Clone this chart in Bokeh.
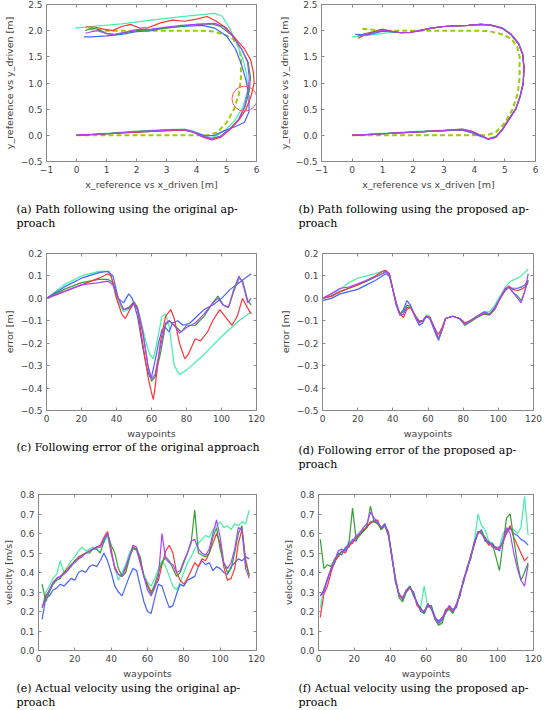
from bokeh.plotting import figure
from bokeh.layouts import column, row
from bokeh.models import Range1d, FixedTicker, LinearAxis, CustomJSTickFormatter
from bokeh.core.properties import value
from bokeh.embed import file_html
from bokeh.resources import INLINE

RED = "#ff3333"; GREEN = "#33a033"; BLUE = "#4563ff"; CYAN = "#40f0a8"; PURPLE = "#a844ff"
REF = "#9acd00"; GRAY = "#8a8a8a"
LW = 1.2

# ---------------- (a) path, original approach ----------------
ref_x = [0.0, 0.5, 1.0, 1.5, 2.0, 2.5, 3.0, 3.5, 4.0, 4.4, 4.7, 5.0, 5.25, 5.42, 5.48, 5.48, 5.4, 5.2, 4.9, 4.5, 4.0, 3.5, 3.0, 2.5, 2.0, 1.5, 1.0, 0.6, 0.3]
ref_y = [0.0, 0.0, 0.0, 0.0, 0.0, 0.0, 0.0, 0.0, 0.0, 0.0, 0.06, 0.24, 0.5, 0.8, 1.1, 1.5, 1.7, 1.85, 1.93, 1.99, 2.0, 2.0, 2.0, 2.0, 2.0, 2.0, 2.0, 2.02, 2.04]

a_cyan_x = [0.0, 1.0, 2.0, 3.0, 3.6, 3.9, 4.2, 4.45, 4.7, 5.0, 5.3, 5.55, 5.7, 5.68, 5.55, 5.35, 5.1, 4.85, 4.6, 3.5, 2.5, 1.5, 0.5, -0.05]
a_cyan_y = [0.0, 0.04, 0.08, 0.11, 0.12, 0.08, 0.0, -0.05, 0.0, 0.12, 0.3, 0.55, 0.85, 1.15, 1.45, 1.75, 2.05, 2.28, 2.33, 2.27, 2.2, 2.13, 2.08, 2.05]
a_blue_x = [0.0, 1.0, 2.0, 3.0, 3.6, 4.0, 4.3, 4.6, 4.9, 5.3, 5.6, 5.75, 5.75, 5.65, 5.5, 5.3, 5.0, 4.6, 4.2, 3.5, 3.0, 2.5, 2.0, 1.5, 1.0, 0.5, 0.25]
a_blue_y = [0.0, 0.03, 0.06, 0.09, 0.1, 0.05, -0.01, 0.0, 0.08, 0.17, 0.25, 0.45, 0.75, 1.05, 1.35, 1.65, 1.9, 2.05, 2.1, 2.08, 2.06, 2.0, 1.98, 1.93, 1.9, 1.88, 1.88]
a_green_x = [0.0, 1.0, 2.0, 3.0, 3.6, 3.9, 4.2, 4.5, 4.8, 5.1, 5.4, 5.62, 5.76, 5.8, 5.72, 5.5, 5.2, 4.8, 4.5, 4.0, 3.5, 3.0, 2.5, 2.0, 1.6, 1.3, 1.0, 0.7, 0.5, 0.3]
a_green_y = [0.0, 0.03, 0.07, 0.1, 0.11, 0.06, -0.02, -0.07, -0.02, 0.12, 0.3, 0.55, 0.85, 1.1, 1.4, 1.65, 1.9, 2.08, 2.13, 2.12, 2.08, 2.05, 2.02, 2.0, 1.96, 1.92, 1.95, 2.03, 2.05, 2.0]
a_red_x = [0.0, 1.0, 2.0, 3.0, 3.6, 3.9, 4.2, 4.5, 4.8, 5.1, 5.4, 5.65, 5.82, 5.92, 5.9, 5.8, 5.6, 5.3, 5.0, 4.6, 4.35, 4.0, 3.6, 3.2, 2.8, 2.4, 2.1, 1.8, 1.5, 1.2, 0.9, 0.6, 0.3]
a_red_y = [0.0, 0.03, 0.06, 0.09, 0.1, 0.06, -0.03, -0.09, -0.04, 0.1, 0.28, 0.5, 0.75, 1.0, 1.2, 1.45, 1.65, 1.85, 2.05, 2.2, 2.27, 2.22, 2.18, 2.2, 2.15, 2.06, 2.05, 2.12, 2.08, 2.0, 2.03, 2.07, 2.07]
a_purple_x = [0.0, 1.0, 2.0, 3.0, 3.6, 3.9, 4.2, 4.5, 4.8, 5.1, 5.4, 5.6, 5.72, 5.76, 5.7, 5.5, 5.2, 4.9, 4.6, 4.0, 3.5, 3.0, 2.5, 2.0, 1.6, 1.25, 1.0, 0.7, 0.5, 0.3]
a_purple_y = [0.0, 0.03, 0.07, 0.1, 0.11, 0.06, -0.02, -0.06, -0.02, 0.12, 0.3, 0.55, 0.85, 1.1, 1.4, 1.65, 1.9, 2.08, 2.14, 2.12, 2.1, 2.07, 2.03, 2.02, 1.97, 1.93, 1.94, 2.0, 1.98, 1.95]
circle_x = [5.6]
circle_y = [0.7]

# ---------------- (b) path, proposed approach ----------------
b_cyan_x = [0.0, 1.0, 2.0, 3.0, 3.6, 3.9, 4.2, 4.45, 4.7, 4.9, 5.1, 5.35, 5.5, 5.6, 5.62, 5.58, 5.45, 5.2, 4.9, 4.5, 4.2, 3.8, 3.4, 3.0, 2.6, 2.2, 1.9, 1.6, 1.3, 1.0, 0.5, 0.0]
b_cyan_y = [0.0, 0.04, 0.07, 0.1, 0.12, 0.08, 0.0, -0.06, -0.02, 0.11, 0.29, 0.51, 0.76, 1.0, 1.3, 1.55, 1.76, 1.94, 2.06, 2.11, 2.12, 2.1, 2.09, 2.08, 2.05, 2.0, 1.97, 1.96, 1.97, 1.95, 1.91, 1.88]
b_blue_x = [0.0, 1.0, 2.0, 3.0, 3.6, 3.9, 4.2, 4.45, 4.7, 4.9, 5.1, 5.35, 5.5, 5.6, 5.62, 5.58, 5.45, 5.2, 4.9, 4.5, 4.2, 3.8, 3.4, 3.0, 2.6, 2.2, 1.9, 1.6, 1.3, 1.0, 0.5, 0.1]
b_blue_y = [0.0, 0.03, 0.06, 0.09, 0.1, 0.05, -0.02, -0.07, -0.04, 0.09, 0.27, 0.49, 0.74, 1.0, 1.3, 1.55, 1.75, 1.93, 2.05, 2.11, 2.12, 2.1, 2.09, 2.08, 2.05, 2.0, 1.97, 1.96, 1.98, 1.99, 1.92, 1.93]
b_green_x = [0.0, 1.0, 2.0, 3.0, 3.6, 3.9, 4.2, 4.45, 4.7, 4.9, 5.1, 5.35, 5.5, 5.6, 5.62, 5.58, 5.45, 5.2, 4.9, 4.5, 4.2, 3.8, 3.4, 3.0, 2.6, 2.2, 1.9, 1.6, 1.3, 1.0, 0.7, 0.4, 0.25]
b_green_y = [0.0, 0.03, 0.06, 0.09, 0.11, 0.07, 0.0, -0.07, -0.03, 0.1, 0.28, 0.5, 0.75, 1.0, 1.3, 1.55, 1.75, 1.93, 2.05, 2.11, 2.12, 2.1, 2.09, 2.08, 2.05, 2.0, 1.97, 1.96, 1.98, 2.03, 1.98, 1.94, 1.9]
b_red_x = [0.0, 1.0, 2.0, 3.0, 3.6, 3.9, 4.2, 4.45, 4.7, 4.9, 5.1, 5.35, 5.5, 5.6, 5.62, 5.58, 5.45, 5.2, 4.9, 4.5, 4.2, 3.8, 3.4, 3.0, 2.6, 2.2, 1.9, 1.6, 1.3, 1.0, 0.7, 0.4, 0.2]
b_red_y = [0.0, 0.03, 0.06, 0.09, 0.12, 0.08, 0.0, -0.07, -0.03, 0.1, 0.28, 0.5, 0.75, 1.0, 1.3, 1.55, 1.74, 1.92, 2.05, 2.11, 2.12, 2.1, 2.09, 2.08, 2.05, 2.0, 1.96, 1.96, 1.99, 2.02, 1.98, 1.92, 1.85]
b_purple_x = [0.0, 1.0, 2.0, 3.0, 3.6, 3.9, 4.2, 4.45, 4.7, 4.9, 5.1, 5.35, 5.5, 5.6, 5.63, 5.58, 5.45, 5.2, 4.9, 4.5, 4.2, 3.8, 3.4, 3.0, 2.6, 2.2, 1.9, 1.6, 1.3, 1.0, 0.7, 0.4, 0.2]
b_purple_y = [0.0, 0.03, 0.06, 0.09, 0.11, 0.07, 0.0, -0.08, -0.04, 0.09, 0.27, 0.5, 0.75, 1.0, 1.3, 1.55, 1.75, 1.93, 2.05, 2.11, 2.12, 2.1, 2.09, 2.08, 2.05, 2.0, 1.97, 1.96, 1.98, 2.01, 1.96, 1.92, 1.9]

# ---------------- (c) error, original approach ----------------
c_red_x = [0, 10, 20, 30, 35, 37, 40, 43, 45, 47, 50, 52, 55, 58, 60, 61, 62, 65, 68, 71, 73, 76, 79, 81, 85, 88, 92, 95, 99, 102, 106, 109, 112, 114, 117]
c_red_y = [0.0, 0.03, 0.06, 0.09, 0.11, 0.1, 0.0, -0.07, -0.09, -0.06, -0.02, -0.05, -0.2, -0.35, -0.42, -0.45, -0.4, -0.2, -0.08, -0.05, -0.09, -0.2, -0.27, -0.25, -0.18, -0.19, -0.15, -0.1, -0.05, -0.08, -0.12, -0.08, 0.0, -0.03, -0.07]
c_cyan_x = [0, 10, 20, 30, 36, 40, 44, 47, 50, 53, 57, 59, 61, 63, 66, 68, 70, 73, 76, 80, 90, 100, 110, 117]
c_cyan_y = [0.0, 0.06, 0.1, 0.12, 0.12, 0.0, -0.06, -0.05, -0.02, -0.07, -0.2, -0.25, -0.27, -0.2, -0.08, -0.07, -0.12, -0.3, -0.34, -0.32, -0.25, -0.17, -0.1, -0.06]
c_blue_x = [0, 10, 20, 30, 35, 38, 41, 44, 47, 49, 52, 55, 57, 59, 60, 62, 64, 66, 68, 70, 72, 75, 78, 82, 86, 90, 95, 100, 105, 110, 117]
c_blue_y = [0.0, 0.05, 0.09, 0.115, 0.12, 0.1, 0.0, -0.02, 0.02, 0.0, -0.08, -0.22, -0.3, -0.35, -0.35, -0.28, -0.2, -0.14, -0.13, -0.15, -0.11, -0.1, -0.12, -0.11, -0.08, -0.05, -0.03, 0.0, 0.04, 0.07, 0.11]
c_green_x = [0, 10, 20, 30, 35, 38, 41, 44, 47, 50, 52, 55, 58, 60, 62, 65, 68, 70, 73, 77, 80, 85, 90, 95, 98, 101, 104, 107, 110, 112, 115, 117]
c_green_y = [0.0, 0.04, 0.07, 0.085, 0.085, 0.07, 0.0, -0.05, -0.04, -0.015, -0.04, -0.15, -0.3, -0.37, -0.35, -0.25, -0.12, -0.1, -0.12, -0.15, -0.12, -0.12, -0.08, -0.02, 0.01, -0.03, -0.04, 0.03, 0.09, 0.08, -0.01, -0.03]
c_purple_x = [0, 10, 20, 30, 35, 38, 41, 44, 47, 50, 52, 55, 58, 60, 62, 65, 68, 70, 73, 76, 80, 85, 90, 95, 98, 101, 104, 107, 110, 112, 115, 117]
c_purple_y = [0.0, 0.03, 0.06, 0.07, 0.077, 0.06, 0.0, -0.05, -0.045, -0.02, -0.05, -0.15, -0.3, -0.36, -0.34, -0.22, -0.11, -0.1, -0.12, -0.155, -0.13, -0.11, -0.07, -0.02, 0.0, -0.03, -0.04, 0.04, 0.1, 0.07, -0.02, 0.0]

# ---------------- (d) error, proposed approach ----------------
d_x = [0, 5, 10, 15, 20, 25, 30, 34, 36, 38, 40, 42, 44, 46, 48, 50, 53, 55, 57, 59, 61, 63, 65, 66, 68, 70, 74, 78, 81, 84, 88, 92, 95, 98, 101, 104, 106, 108, 111, 113, 115, 117]
d_red_y = [0.0, 0.01, 0.03, 0.045, 0.06, 0.08, 0.1, 0.12, 0.125, 0.11, 0.04, -0.03, -0.07, -0.085, -0.05, -0.04, -0.08, -0.105, -0.1, -0.08, -0.085, -0.12, -0.15, -0.16, -0.13, -0.09, -0.08, -0.09, -0.11, -0.1, -0.08, -0.065, -0.07, -0.045, 0.0, 0.04, 0.055, 0.04, 0.035, 0.04, 0.05, 0.07]
d_blue_y = [-0.01, 0.0, 0.02, 0.03, 0.04, 0.06, 0.08, 0.1, 0.11, 0.1, 0.04, -0.02, -0.07, -0.05, -0.01, -0.03, -0.09, -0.12, -0.11, -0.08, -0.09, -0.13, -0.17, -0.18, -0.14, -0.09, -0.08, -0.09, -0.11, -0.1, -0.08, -0.06, -0.07, -0.04, 0.0, 0.035, 0.05, 0.045, 0.045, 0.05, 0.06, 0.08]
d_cyan_y = [0.0, 0.02, 0.04, 0.07, 0.09, 0.1, 0.11, 0.12, 0.12, 0.11, 0.04, -0.02, -0.07, -0.06, -0.04, -0.04, -0.08, -0.1, -0.1, -0.075, -0.08, -0.12, -0.17, -0.19, -0.14, -0.09, -0.08, -0.09, -0.115, -0.1, -0.08, -0.06, -0.06, -0.03, 0.01, 0.05, 0.07, 0.08, 0.09, 0.1, 0.115, 0.13]
d_green_y = [0.0, 0.01, 0.03, 0.045, 0.06, 0.075, 0.095, 0.11, 0.12, 0.11, 0.04, -0.03, -0.07, -0.06, -0.03, -0.035, -0.08, -0.1, -0.1, -0.08, -0.085, -0.12, -0.16, -0.18, -0.14, -0.09, -0.08, -0.09, -0.12, -0.105, -0.085, -0.07, -0.075, -0.05, 0.0, 0.04, 0.05, 0.03, 0.01, -0.01, 0.03, 0.08]
d_purple_y = [0.0, 0.02, 0.045, 0.05, 0.065, 0.08, 0.095, 0.11, 0.12, 0.105, 0.04, -0.03, -0.075, -0.07, -0.04, -0.04, -0.085, -0.11, -0.1, -0.08, -0.09, -0.12, -0.16, -0.185, -0.14, -0.09, -0.08, -0.09, -0.115, -0.1, -0.08, -0.065, -0.07, -0.045, 0.0, 0.045, 0.05, 0.03, 0.0, -0.02, 0.03, 0.11]

# ---------------- (e) velocity, original approach ----------------
e_x = [2, 4, 6, 8, 10, 12, 14, 16, 18, 20, 22, 24, 26, 28, 30, 32, 34, 36, 38, 40, 42, 44, 46, 48, 50, 52, 54, 56, 58, 60, 62, 64, 66, 68, 70, 72, 74, 76, 78, 80, 82, 84, 86, 88, 90, 92, 94, 96, 98, 100, 102, 104, 106, 108, 110, 112, 114, 116]
e_blue = [0.16, 0.27, 0.28, 0.31, 0.32, 0.34, 0.33, 0.35, 0.37, 0.36, 0.40, 0.41, 0.40, 0.43, 0.44, 0.43, 0.46, 0.50, 0.46, 0.40, 0.33, 0.30, 0.28, 0.33, 0.38, 0.42, 0.41, 0.33, 0.25, 0.20, 0.19, 0.27, 0.34, 0.33, 0.27, 0.22, 0.23, 0.29, 0.34, 0.33, 0.36, 0.37, 0.38, 0.43, 0.46, 0.44, 0.45, 0.41, 0.43, 0.42, 0.40, 0.39, 0.43, 0.45, 0.47, 0.46, 0.48, 0.47]
e_red = [0.22, 0.28, 0.31, 0.34, 0.37, 0.38, 0.40, 0.42, 0.44, 0.46, 0.48, 0.49, 0.50, 0.51, 0.52, 0.53, 0.54, 0.58, 0.61, 0.52, 0.42, 0.39, 0.38, 0.42, 0.48, 0.52, 0.52, 0.45, 0.38, 0.34, 0.30, 0.33, 0.36, 0.44, 0.51, 0.54, 0.50, 0.40, 0.36, 0.34, 0.37, 0.41, 0.45, 0.43, 0.47, 0.46, 0.50, 0.55, 0.60, 0.55, 0.43, 0.36, 0.37, 0.42, 0.55, 0.62, 0.47, 0.38]
e_green = [0.34, 0.25, 0.30, 0.34, 0.36, 0.37, 0.40, 0.41, 0.43, 0.46, 0.47, 0.49, 0.50, 0.50, 0.52, 0.52, 0.50, 0.56, 0.60, 0.54, 0.50, 0.42, 0.38, 0.40, 0.47, 0.53, 0.52, 0.48, 0.38, 0.33, 0.29, 0.34, 0.40, 0.45, 0.48, 0.46, 0.42, 0.38, 0.40, 0.45, 0.50, 0.55, 0.72, 0.50, 0.49, 0.48, 0.50, 0.58, 0.63, 0.52, 0.45, 0.40, 0.42, 0.50, 0.60, 0.64, 0.45, 0.39]
e_cyan = [0.22, 0.30, 0.33, 0.37, 0.39, 0.46, 0.40, 0.43, 0.46, 0.48, 0.51, 0.53, 0.51, 0.52, 0.53, 0.52, 0.54, 0.55, 0.59, 0.50, 0.42, 0.36, 0.40, 0.44, 0.50, 0.53, 0.51, 0.45, 0.39, 0.35, 0.33, 0.37, 0.42, 0.46, 0.43, 0.38, 0.33, 0.31, 0.35, 0.40, 0.45, 0.48, 0.52, 0.55, 0.57, 0.59, 0.58, 0.62, 0.64, 0.66, 0.63, 0.64, 0.62, 0.65, 0.64, 0.66, 0.65, 0.72]
e_purple = [0.22, 0.27, 0.31, 0.35, 0.37, 0.38, 0.39, 0.41, 0.44, 0.45, 0.47, 0.48, 0.50, 0.51, 0.52, 0.53, 0.53, 0.57, 0.60, 0.50, 0.43, 0.39, 0.38, 0.43, 0.48, 0.54, 0.53, 0.46, 0.38, 0.31, 0.28, 0.32, 0.38, 0.60, 0.47, 0.45, 0.44, 0.40, 0.41, 0.46, 0.50, 0.56, 0.57, 0.52, 0.50, 0.49, 0.52, 0.60, 0.67, 0.58, 0.45, 0.42, 0.45, 0.52, 0.63, 0.62, 0.42, 0.37]

# ---------------- (f) velocity, proposed approach ----------------
f_x = [1, 3, 5, 7, 9, 11, 13, 15, 17, 19, 21, 23, 25, 27, 29, 31, 33, 35, 37, 39, 41, 43, 45, 47, 49, 51, 53, 55, 57, 59, 61, 63, 65, 67, 69, 71, 73, 75, 77, 79, 81, 83, 85, 87, 89, 91, 93, 95, 97, 99, 101, 103, 105, 107, 109, 111, 113, 115, 117]
f_blue = [0.28, 0.31, 0.37, 0.42, 0.45, 0.50, 0.49, 0.53, 0.53, 0.57, 0.56, 0.60, 0.61, 0.64, 0.65, 0.67, 0.65, 0.63, 0.65, 0.60, 0.49, 0.35, 0.29, 0.26, 0.31, 0.33, 0.28, 0.25, 0.20, 0.19, 0.24, 0.21, 0.17, 0.15, 0.17, 0.19, 0.23, 0.21, 0.22, 0.30, 0.35, 0.43, 0.47, 0.56, 0.60, 0.62, 0.56, 0.56, 0.53, 0.53, 0.51, 0.57, 0.60, 0.63, 0.60, 0.59, 0.57, 0.56, 0.54]
f_red = [0.17, 0.29, 0.33, 0.40, 0.46, 0.48, 0.51, 0.50, 0.54, 0.55, 0.58, 0.59, 0.62, 0.63, 0.66, 0.66, 0.67, 0.62, 0.64, 0.61, 0.47, 0.37, 0.28, 0.27, 0.30, 0.32, 0.30, 0.23, 0.21, 0.20, 0.23, 0.22, 0.16, 0.14, 0.16, 0.21, 0.22, 0.20, 0.24, 0.28, 0.37, 0.41, 0.49, 0.54, 0.61, 0.60, 0.57, 0.54, 0.55, 0.52, 0.53, 0.55, 0.61, 0.64, 0.58, 0.54, 0.50, 0.46, 0.48]
f_green = [0.57, 0.42, 0.44, 0.43, 0.47, 0.49, 0.51, 0.51, 0.55, 0.73, 0.57, 0.59, 0.61, 0.63, 0.74, 0.66, 0.65, 0.62, 0.64, 0.59, 0.48, 0.36, 0.27, 0.25, 0.30, 0.33, 0.29, 0.24, 0.22, 0.19, 0.23, 0.23, 0.16, 0.13, 0.14, 0.20, 0.21, 0.19, 0.23, 0.29, 0.36, 0.42, 0.48, 0.55, 0.60, 0.61, 0.58, 0.55, 0.55, 0.48, 0.41, 0.55, 0.68, 0.70, 0.57, 0.45, 0.36, 0.40, 0.45]
f_cyan = [0.22, 0.32, 0.36, 0.41, 0.45, 0.49, 0.50, 0.52, 0.56, 0.55, 0.58, 0.61, 0.62, 0.63, 0.66, 0.66, 0.66, 0.62, 0.65, 0.59, 0.48, 0.37, 0.28, 0.27, 0.31, 0.33, 0.29, 0.24, 0.22, 0.33, 0.22, 0.23, 0.18, 0.13, 0.15, 0.21, 0.22, 0.20, 0.24, 0.30, 0.36, 0.43, 0.49, 0.56, 0.70, 0.64, 0.62, 0.56, 0.55, 0.53, 0.53, 0.60, 0.62, 0.62, 0.62, 0.60, 0.63, 0.79, 0.59]
f_purple = [0.28, 0.30, 0.36, 0.42, 0.46, 0.51, 0.52, 0.51, 0.55, 0.56, 0.59, 0.60, 0.63, 0.65, 0.71, 0.68, 0.66, 0.63, 0.64, 0.60, 0.48, 0.35, 0.29, 0.27, 0.31, 0.32, 0.30, 0.24, 0.21, 0.20, 0.24, 0.22, 0.17, 0.14, 0.16, 0.20, 0.23, 0.20, 0.23, 0.29, 0.36, 0.42, 0.48, 0.55, 0.61, 0.60, 0.57, 0.55, 0.54, 0.52, 0.52, 0.56, 0.63, 0.60, 0.50, 0.42, 0.36, 0.33, 0.44]

ticks_path_x = [-1, 0, 1, 2, 3, 4, 5, 6]
ticks_path_y = [-0.5, 0.0, 0.5, 1.0, 1.5, 2.0, 2.5]
ticks_wp = [0, 20, 40, 60, 80, 100, 120]
ticks_err = [-0.5, -0.4, -0.3, -0.2, -0.1, 0.0, 0.1, 0.2]
ticks_vel = [0.0, 0.1, 0.2, 0.3, 0.4, 0.5, 0.6, 0.7, 0.8]

cap_a = ["(a) Path following using the original ap-", "proach"]
cap_b = ["(b) Path following using the proposed ap-", "proach"]
cap_c = ["(c) Following error of the original approach"]
cap_d = ["(d) Following error of the proposed ap-", "proach"]
cap_e = ["(e) Actual velocity using the original ap-", "proach"]
cap_f = ["(f) Actual velocity using the proposed ap-", "proach"]


def fmt(dec):
    return CustomJSTickFormatter(code="return tick.toFixed(%d).replace('-', '\\u2212');" % dec)


def make_panel(h, borders, xr, yr, xt, yt, xlab, ylab, xdec, ydec):
    l, r, t, b = borders
    p = figure(width=272, height=h, x_range=Range1d(*xr), y_range=Range1d(*yr),
               output_backend="svg", toolbar_location=None,
               min_border_left=l, min_border_right=r, min_border_top=t, min_border_bottom=b)
    p.xgrid.visible = False
    p.ygrid.visible = False
    p.outline_line_color = GRAY
    p.background_fill_color = "white"
    p.border_fill_color = "white"
    for ax, ticks, dec, lab in ((p.xaxis[0], xt, xdec, xlab), (p.yaxis[0], yt, ydec, ylab)):
        ax.ticker = FixedTicker(ticks=ticks)
        ax.formatter = fmt(dec)
        ax.axis_label = lab
        ax.axis_label_text_font = "DejaVu Sans"
        ax.axis_label_text_font_size = "9.5px"
        ax.axis_label_text_font_style = "normal"
        ax.axis_label_standoff = 3
        ax.major_label_text_font = "DejaVu Sans"
        ax.major_label_text_font_size = "9px"
        ax.major_label_standoff = 4
        ax.axis_line_color = GRAY
        ax.major_tick_line_color = GRAY
        ax.major_tick_in = 3
        ax.major_tick_out = 0
        ax.minor_tick_line_color = None
    for side, ticks in (("above", xt), ("right", yt)):
        ax2 = LinearAxis(ticker=FixedTicker(ticks=ticks), major_label_text_font_size="0px",
                         major_label_text_color=None, major_label_standoff=0,
                         axis_line_color=GRAY, major_tick_line_color=GRAY,
                         major_tick_in=3, major_tick_out=0, minor_tick_line_color=None)
        p.add_layout(ax2, side)
    return p


def caption(lines, h, x0, y0):
    c = figure(width=272, height=h, x_range=Range1d(0, 272), y_range=Range1d(h, 0),
               output_backend="svg", toolbar_location=None, x_axis_type=None, y_axis_type=None,
               min_border=0)
    c.grid.visible = False
    c.outline_line_color = None
    c.border_fill_color = "white"
    xs = [x0] * len(lines)
    ys = [y0 + 13.5 * i for i in range(len(lines))]
    c.text(x=xs, y=ys, text=lines, text_font=value("DejaVu Serif"), text_font_size=value("11px"),
           text_align="left", text_baseline="middle", text_color="black")
    return c


pa = make_panel(195, (41, 16, 4, 34), (-1, 6), (-0.5, 2.5), ticks_path_x, ticks_path_y,
                "x_reference vs x_driven [m]", "y_reference vs y_driven [m]", 0, 1)
pa.line(ref_x, ref_y, line_color=REF, line_width=2, line_dash="5 3")
for xs, ys, c in ((a_cyan_x, a_cyan_y, CYAN), (a_blue_x, a_blue_y, BLUE), (a_green_x, a_green_y, GREEN),
                  (a_red_x, a_red_y, RED), (a_purple_x, a_purple_y, PURPLE)):
    pa.line(xs, ys, line_color=c, line_width=LW)
pa.scatter(circle_x, circle_y, marker="circle", size=25, fill_alpha=0, line_color="#ff5a5a", line_width=1)

pb = make_panel(195, (49, 9, 4, 34), (-1, 6), (-0.5, 2.5), ticks_path_x, ticks_path_y,
                "x_reference vs x_driven [m]", "y_reference vs y_driven [m]", 0, 1)
pb.line(ref_x, ref_y, line_color=REF, line_width=2, line_dash="5 3")
for xs, ys, c in ((b_cyan_x, b_cyan_y, CYAN), (b_blue_x, b_blue_y, BLUE), (b_green_x, b_green_y, GREEN),
                  (b_red_x, b_red_y, RED), (b_purple_x, b_purple_y, PURPLE)):
    pb.line(xs, ys, line_color=c, line_width=LW)

pc = make_panel(211, (42, 16, 23, 30), (0, 120), (-0.5, 0.2), ticks_wp, ticks_err,
                "waypoints", "error [m]", 0, 1)
for xs, ys, c in ((c_cyan_x, c_cyan_y, CYAN), (c_blue_x, c_blue_y, BLUE), (c_green_x, c_green_y, GREEN),
                  (c_red_x, c_red_y, RED), (c_purple_x, c_purple_y, PURPLE)):
    pc.line(xs, ys, line_color=c, line_width=LW)

pd_ = make_panel(211, (50, 11, 23, 30), (0, 120), (-0.5, 0.2), ticks_wp, ticks_err,
                 "waypoints", "error [m]", 0, 1)
for ys, c in ((d_cyan_y, CYAN), (d_blue_y, BLUE), (d_green_y, GREEN), (d_red_y, RED), (d_purple_y, PURPLE)):
    pd_.line(d_x, ys, line_color=c, line_width=LW)

pe = make_panel(211, (38, 16, 24, 30), (0, 120), (0, 0.8), ticks_wp, ticks_vel,
                "waypoints", "velocity [m/s]", 0, 1)
for ys, c in ((e_cyan, CYAN), (e_blue, BLUE), (e_red, RED), (e_green, GREEN), (e_purple, PURPLE)):
    pe.line(e_x, ys, line_color=c, line_width=LW)

pf = make_panel(211, (46, 11, 24, 30), (0, 120), (0, 0.8), ticks_wp, ticks_vel,
                "waypoints", "velocity [m/s]", 0, 1)
for ys, c in ((f_cyan, CYAN), (f_blue, BLUE), (f_red, RED), (f_green, GREEN), (f_purple, PURPLE)):
    pf.line(f_x, ys, line_color=c, line_width=LW)

layout = column(
    row(pa, pb),
    row(caption(cap_a, 35, 16, 14), caption(cap_b, 35, 26, 14)),
    row(pc, pd_),
    row(caption(cap_c, 29, 16, 6), caption(cap_d, 29, 26, 9)),
    row(pe, pf),
    row(caption(cap_e, 29, 16, 7), caption(cap_f, 29, 26, 7)),
)
open("out.html", "w", encoding="utf-8").write(file_html(layout, INLINE))
